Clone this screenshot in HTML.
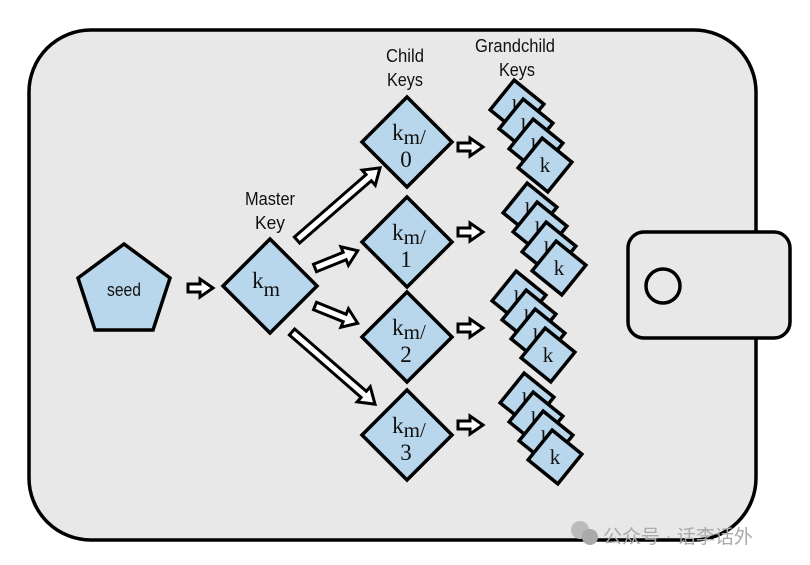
<!DOCTYPE html>
<html><head><meta charset="utf-8"><style>html,body{margin:0;padding:0;background:#fff}svg{display:block}</style></head>
<body>
<svg width="810" height="565" viewBox="0 0 810 565" xmlns="http://www.w3.org/2000/svg">
<defs>
<polygon id="ar" points="0,-4 -12,-4 -12,4 0,4 0,9 13,0 0,-9" />
<g id="sd"><polygon points="0,-27 27,0 0,27 -27,0" transform="rotate(-6)"/></g>
</defs>
<rect x="29" y="30" width="727" height="510" rx="62" fill="#e8e8e8" stroke="#000" stroke-width="3.5"/>
<rect x="628" y="232" width="162" height="106" rx="16" fill="#e8e8e8" stroke="#000" stroke-width="3.5"/>
<circle cx="663" cy="286" r="17" fill="#e8e8e8" stroke="#000" stroke-width="3.5"/>
<g fill="#b9d7ec" stroke="#000" stroke-width="3.5" stroke-linejoin="miter">
<polygon points="124,244 170,278 153,330 95,330 78,278"/>
<polygon points="270,239 317,286 270,333 223,286"/>
<polygon points="407,97 452,142 407,187 362,142"/>
<polygon points="407,197 452,242 407,287 362,242"/>
<polygon points="407,292 452,337 407,382 362,337"/>
<polygon points="407,390 452,435 407,480 362,435"/>
</g>
<g font-family="Liberation Serif, serif" font-size="23" fill="#111" text-anchor="middle">
<text x="124" y="296" font-family="Liberation Sans, sans-serif" font-size="18" textLength="34" lengthAdjust="spacingAndGlyphs">seed</text>
<text x="266" y="288">k<tspan font-size="21" dy="8">m</tspan></text>
<text x="409" y="140">k<tspan font-size="21" dy="4">m/</tspan></text><text x="406" y="167">0</text>
<text x="409" y="240">k<tspan font-size="21" dy="4">m/</tspan></text><text x="406" y="267">1</text>
<text x="409" y="335">k<tspan font-size="21" dy="4">m/</tspan></text><text x="406" y="362">2</text>
<text x="409" y="433">k<tspan font-size="21" dy="4">m/</tspan></text><text x="406" y="460">3</text>
</g>
<g font-family="Liberation Sans, sans-serif" font-size="18" fill="#111" text-anchor="middle">
<text x="270" y="205" textLength="50" lengthAdjust="spacingAndGlyphs">Master</text>
<text x="270" y="229" textLength="30" lengthAdjust="spacingAndGlyphs">Key</text>
<text x="405" y="62" textLength="38" lengthAdjust="spacingAndGlyphs">Child</text>
<text x="405" y="86" textLength="36" lengthAdjust="spacingAndGlyphs">Keys</text>
<text x="515" y="52" textLength="80" lengthAdjust="spacingAndGlyphs">Grandchild</text>
<text x="517" y="76" textLength="36" lengthAdjust="spacingAndGlyphs">Keys</text>
</g>
<g fill="#fff" stroke="#000" stroke-width="3" stroke-linejoin="miter">
<use href="#ar" transform="translate(470,147)"/>
<use href="#ar" transform="translate(200,288)"/>
<use href="#ar" transform="translate(470,232)"/>
<use href="#ar" transform="translate(470,328)"/>
<use href="#ar" transform="translate(470,425)"/>
<polygon transform="translate(297,240) rotate(-41)" points="0,-4 95,-4 95,-10 110,0 95,10 95,4 0,4"/>
<polygon transform="translate(315,268) rotate(-22)" points="0,-4 32,-4 32,-10 46,0 32,10 32,4 0,4"/>
<polygon transform="translate(315,306) rotate(22)" points="0,-4 32,-4 32,-10 46,0 32,10 32,4 0,4"/>
<polygon transform="translate(292,332) rotate(41)" points="0,-4 95,-4 95,-10 110,0 95,10 95,4 0,4"/>
</g>
<g fill="#b9d7ec" stroke="#000" stroke-width="3.5" font-family="Liberation Serif, serif" font-size="21" text-anchor="middle">
<g transform="translate(517,107)"><use href="#sd"/><text y="7" stroke="none" fill="#111">k</text></g>
<g transform="translate(526,126)"><use href="#sd"/><text y="7" stroke="none" fill="#111">k</text></g>
<g transform="translate(536,146)"><use href="#sd"/><text y="7" stroke="none" fill="#111">k</text></g>
<g transform="translate(545,165)"><use href="#sd"/><text y="7" stroke="none" fill="#111">k</text></g>
<g transform="translate(530,210)"><use href="#sd"/><text y="7" stroke="none" fill="#111">k</text></g>
<g transform="translate(540,229)"><use href="#sd"/><text y="7" stroke="none" fill="#111">k</text></g>
<g transform="translate(549,249)"><use href="#sd"/><text y="7" stroke="none" fill="#111">k</text></g>
<g transform="translate(559,268)"><use href="#sd"/><text y="7" stroke="none" fill="#111">k</text></g>
<g transform="translate(519,298)"><use href="#sd"/><text y="7" stroke="none" fill="#111">k</text></g>
<g transform="translate(529,317)"><use href="#sd"/><text y="7" stroke="none" fill="#111">k</text></g>
<g transform="translate(538,336)"><use href="#sd"/><text y="7" stroke="none" fill="#111">k</text></g>
<g transform="translate(548,355)"><use href="#sd"/><text y="7" stroke="none" fill="#111">k</text></g>
<g transform="translate(527,400)"><use href="#sd"/><text y="7" stroke="none" fill="#111">k</text></g>
<g transform="translate(536,419)"><use href="#sd"/><text y="7" stroke="none" fill="#111">k</text></g>
<g transform="translate(546,438)"><use href="#sd"/><text y="7" stroke="none" fill="#111">k</text></g>
<g transform="translate(555,457)"><use href="#sd"/><text y="7" stroke="none" fill="#111">k</text></g>
</g>
<circle cx="580" cy="530" r="9" fill="#bbb"/><circle cx="590" cy="537" r="8" fill="#aaa"/>
<text x="603" y="543" font-family="Liberation Sans, 'Noto Sans CJK SC', sans-serif" font-size="19" fill="#aaa">公众号 · 话李话外</text>
</svg>
</body></html>
